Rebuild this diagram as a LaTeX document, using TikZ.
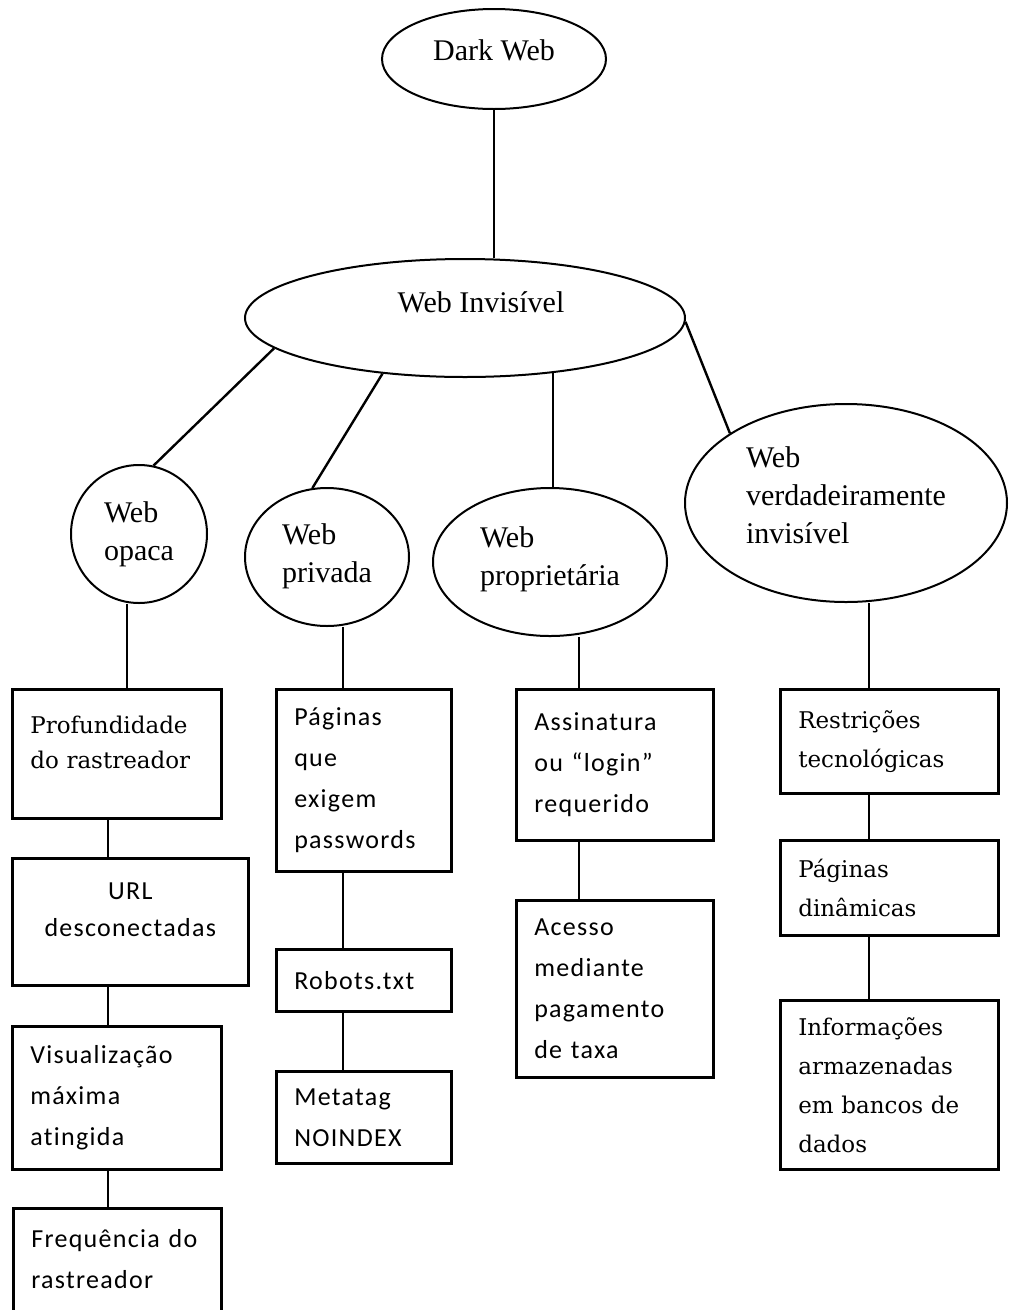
\documentclass[tikz,border=0pt]{standalone}
\usepackage{fontspec}
\usepackage{tikz}
\usetikzlibrary{shapes.geometric}
\setmainfont{Liberation Serif}
\newfontfamily\boxserif{DejaVu Serif}
\newfontfamily\boxsans[LetterSpace=5,Ligatures=NoCommon]{Carlito}

\begin{document}
\begin{tikzpicture}[x=1pt, y=-1pt, line width=2.4pt,
    oval/.style = {draw, ellipse, line width=2pt, inner sep=0pt, align=left, font=\fontsize{30}{38}\selectfont},
    box/.style = {draw, rectangle, line width=2.6pt, anchor=north west, inner xsep=18pt, inner ysep=0pt, align=left},
    serifbox/.style = {box, font=\boxserif\fontsize{23}{39}\selectfont},
    sansbox/.style = {box, font=\boxsans\fontsize{26}{41}\selectfont}]
    \useasboundingbox (0,0) rectangle (1009,1310);

    % top of the tree
    \node[oval, minimum width=224pt, minimum height=100pt, text depth=18pt] (dw) at (494,59) {Dark Web};
    \node[oval, minimum width=440pt, minimum height=118pt, text depth=32pt] (wi) at (465,318) {\hspace*{32pt}Web Invisível};

    \node[oval, minimum width=136pt, minimum height=138pt] (op) at (139,534) {Web\\opaca};
    \node[oval, minimum width=164pt, minimum height=138pt] (pr) at (327,557) {Web\\privada\\[-30pt]\mbox{}};
    \node[oval, minimum width=234pt, minimum height=148pt] (pp) at (550,562) {Web\\proprietária\\[-26pt]\mbox{}};
    \node[oval, minimum width=322pt, minimum height=198pt] (vi) at (846,503) {Web\\verdadeiramente\\invisível\\[-22pt]\mbox{}};

    % web opaca
    \node[serifbox, text width=173pt, minimum height=129pt] (b1) at (11,688) {Profundidade\\[-4pt]do~rastreador\\[-16pt]\mbox{}};
    \node[sansbox, align=center, text width=200pt, minimum height=127pt] (b2) at (11,857) {URL\\[-4pt]desconectadas\\[-16pt]\mbox{}};
    \node[sansbox, text width=173pt, minimum height=143pt] (b3) at (11,1025) {Visualização\\máxima\\atingida};
    \node[sansbox, text width=172pt, minimum height=115pt] (b4) at (12,1207) {Frequência~do\\rastreador\\[-27pt]\mbox{}};

    % web privada
    \node[sansbox, text width=139pt, minimum height=182pt] (c1) at (275,688) {Páginas\\que\\exigem\\passwords};
    \node[sansbox, text width=139pt, minimum height=62pt] (c2) at (275,948) {Robots.txt};
    \node[sansbox, text width=139pt, minimum height=92pt] (c3) at (275,1070) {Metatag\\NOINDEX};

    % web proprietaria
    \node[sansbox, text width=161pt, minimum height=151pt] (d1) at (515,688) {Assinatura\\ou~“login”\\requerido};
    \node[sansbox, text width=161pt, minimum height=177pt] (d2) at (515,899) {Acesso\\mediante\\pagamento\\de~taxa};

    % web verdadeiramente invisivel
    \node[serifbox, text width=182pt, minimum height=104pt] (e1) at (779,688) {Restrições\\tecnológicas};
    \node[serifbox, text width=182pt, minimum height=95pt] (e2) at (779,839) {Páginas\\dinâmicas};
    \node[serifbox, text width=182pt, minimum height=169pt] (e3) at (779,999) {Informações\\armazenadas\\em~bancos~de\\dados};

    \coordinate (xa) at (127,0);
    \coordinate (xb) at (108,0);
    \coordinate (xc) at (343,0);
    \coordinate (xd) at (579,0);
    \coordinate (xe) at (869,0);

    \draw (dw.south) -- (dw.south |- wi.north);
    \draw (wi.189) -- (op.78);
    \draw (wi.214) -- (pr.102);
    \draw (wi.-32.4) -- (wi.-32.4 |- pp.north);
    \draw (wi.-1) -- (vi.149);

    \draw (op.south -| xa) -- (b1.north -| xa);
    \draw (b1.south -| xb) -- (b2.north -| xb);
    \draw (b2.south -| xb) -- (b3.north -| xb);
    \draw (b3.south -| xb) -- (b4.north -| xb);

    \draw (pr.south -| xc) -- (c1.north -| xc);
    \draw (c1.south -| xc) -- (c2.north -| xc);
    \draw (c2.south -| xc) -- (c3.north -| xc);

    \draw (pp.south -| xd) -- (d1.north -| xd);
    \draw (d1.south -| xd) -- (d2.north -| xd);

    \draw (vi.south -| xe) -- (e1.north -| xe);
    \draw (e1.south -| xe) -- (e2.north -| xe);
    \draw (e2.south -| xe) -- (e3.north -| xe);

\end{tikzpicture}
\end{document}
